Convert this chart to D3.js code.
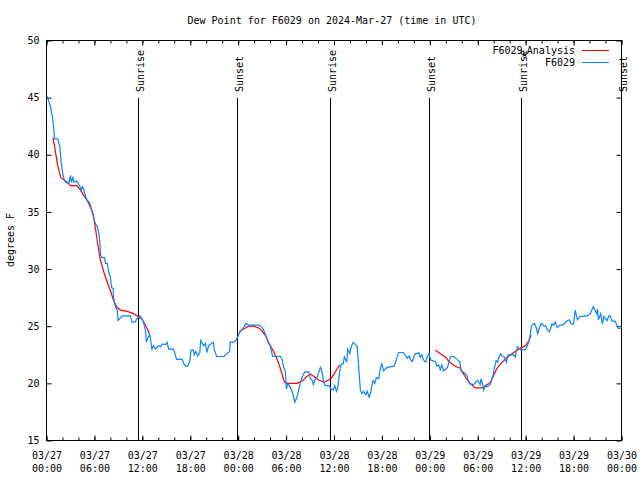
<!DOCTYPE html>
<html><head><meta charset="utf-8">
<script src="https://cdn.jsdelivr.net/npm/d3@7"></script>
<style>
body{margin:0;background:#fff}
svg text{font-family:"DejaVu Sans Mono",monospace;font-size:10px;fill:#000}
</style></head>
<body><svg id="c" width="640" height="480"></svg>
<script>
// hours since 2024-03-27 00:00 UTC
const obsHours = [0.1,0.5,0.75,0.9,1.0,1.4,1.67,1.83,2.0,2.17,2.4,2.8,3.0,3.1,3.3,3.4,3.8,4.2,4.3,4.5,4.7,4.9,5.1,5.3,5.5,5.7,5.9,6.1,6.35,6.55,6.7,6.76,6.97,7.26,7.4,7.6,7.8,8.0,8.14,8.35,8.4,8.5,8.64,8.85,8.97,9.2,9.5,10.5,10.7,11.1,11.35,11.7,12.0,12.2,12.4,12.5,12.7,12.9,13.0,13.2,13.4,13.65,13.9,14.06,14.3,14.5,14.9,15.1,15.3,15.9,16.3,17.0,17.2,17.4,17.7,17.95,18.1,18.4,18.5,18.7,18.95,19.2,19.3,19.5,19.7,19.9,20.1,20.3,20.5,20.9,21.0,21.3,22.2,22.6,22.95,23.0,23.45,23.7,23.9,24.1,24.3,24.7,25.0,25.3,25.76,26.6,27.0,27.3,27.6,27.8,28.05,28.3,29.3,29.5,29.7,29.9,30.05,30.2,30.5,30.8,31.1,31.4,31.6,31.8,32.1,32.35,32.85,33.06,33.3,33.4,33.7,33.9,34.1,34.3,34.5,34.7,34.9,35.35,35.65,35.9,36.1,36.3,36.5,36.6,36.7,36.9,37.15,37.3,37.6,37.7,37.98,38.15,38.4,38.6,38.9,39.1,39.3,39.5,39.7,40.0,40.15,40.4,40.6,40.8,40.9,41.1,41.3,41.6,41.8,42.0,42.2,42.65,43.5,43.7,43.9,44.1,44.7,44.95,45.2,45.4,45.6,45.8,46.0,46.2,46.4,46.6,46.8,47.0,47.2,47.5,47.7,47.9,48.1,48.7,48.9,49.1,49.3,49.5,49.7,49.96,50.2,50.4,50.6,51.0,51.4,51.75,51.9,52.2,52.5,52.7,52.8,53.0,53.5,53.7,54.0,54.3,54.4,54.55,54.75,54.97,55.2,55.6,55.7,55.9,56.1,56.3,56.5,56.6,56.85,57.06,57.35,57.6,57.8,58.5,58.7,58.85,59.0,59.35,59.98,60.2,60.4,60.6,60.7,60.95,61.1,61.36,61.5,61.7,61.95,62.3,62.5,62.7,62.98,63.2,63.3,63.5,63.7,63.95,64.3,64.6,64.8,65.2,65.5,65.7,66.0,66.2,66.4,66.5,66.8,67.1,67.3,67.7,68.1,68.45,68.6,68.9,69.0,69.1,69.4,69.6,69.8,70.0,70.2,70.4,70.6,70.8,71.2,71.4,71.6,71.9];
const obsDew = [45.1,44.2,43.3,42.4,41.4,41.4,40.7,39.4,38.5,37.9,37.6,37.5,38.2,37.6,38.0,37.6,37.7,37.2,36.9,37.2,36.9,36.3,36.0,35.9,35.6,35.0,34.5,34.0,33.7,33.2,32.2,31.2,31.0,31.0,30.5,30.5,29.7,29.3,28.4,28.3,27.5,27.1,26.7,26.4,25.5,25.7,25.9,25.9,25.35,25.35,25.7,25.9,25.6,25.2,24.6,23.6,24.0,24.3,24.0,23.0,23.3,23.0,23.2,23.3,23.2,23.45,23.4,23.6,23.0,23.0,22.1,22.1,21.7,21.5,21.5,22.0,22.9,22.9,22.5,22.8,22.4,22.7,23.75,23.5,23.3,23.5,22.7,23.3,23.4,23.6,23.0,22.35,22.35,22.6,22.8,23.6,23.6,23.75,24.0,24.3,24.6,24.9,25.25,25.1,25.1,25.1,24.9,24.5,23.9,23.5,23.2,22.35,22.35,22.1,21.4,21.1,19.5,20.0,19.7,19.2,18.35,18.9,19.5,20.1,20.7,21.0,21.0,20.4,20.25,19.9,20.4,20.55,21.0,21.4,21.0,20.1,19.8,19.8,19.5,19.4,19.8,19.3,19.7,20.4,21.0,21.7,21.7,22.3,21.85,23.0,22.6,23.2,23.6,23.45,23.2,21.4,19.4,19.1,19.3,19.0,19.3,18.8,19.2,20.0,20.25,20.0,20.5,20.4,21.3,21.7,21.1,21.4,21.5,21.85,22.3,22.7,22.7,22.4,22.2,22.4,22.05,21.9,22.35,22.6,22.6,22.7,22.3,22.5,22.05,21.85,22.4,22.6,22.05,21.9,21.5,21.6,21.2,21.6,21.1,21.2,21.4,21.85,22.35,22.35,22.1,21.9,21.1,21.0,20.8,20.6,20.25,19.95,19.9,20.1,20.25,19.9,20.4,20.1,19.4,19.8,19.7,19.95,20.25,20.6,21.4,22.0,21.85,22.15,22.6,22.4,22.3,21.85,22.5,22.5,22.3,22.9,23.2,22.95,22.95,23.3,23.6,24.3,25.0,25.2,25.25,24.8,24.35,24.8,25.25,25.0,25.05,24.7,24.5,25.0,25.2,25.1,25.35,24.9,25.1,25.1,25.2,25.5,25.55,25.2,25.2,26.4,25.8,25.55,25.85,25.85,25.9,25.9,26.1,26.7,26.5,26.1,26.5,25.55,26.1,25.2,25.85,25.65,25.5,25.9,25.9,25.45,25.45,25.1,24.8,24.8];
// analysis: null marks a gap
const anaHours = [0.8,1.0,1.2,1.4,1.6,1.8,2.2,2.6,3.0,3.8,4.26,4.7,5.1,5.5,5.85,6.1,6.35,6.55,6.76,7.2,7.6,8.0,8.4,8.77,9.27,10.1,10.9,11.35,11.8,12.2,12.6,12.9,
  13.0,
  24.1,24.3,24.9,25.3,25.96,26.6,27.0,27.4,27.8,28.26,28.7,29.1,29.5,29.8,30.1,31.4,32.0,32.6,33.06,33.5,34.1,34.7,35.1,35.6,36.0,36.4,36.7,
  36.8,
  48.7,49.3,49.96,50.4,50.8,51.2,51.8,52.05,52.5,52.9,53.5,53.7,54.55,54.97,55.6,56.0,56.4,56.85,57.3,57.7,58.3,58.9,59.55,59.98,60.4,60.7];
const anaDew = [41.5,40.8,39.9,39.1,38.5,38.0,37.8,37.6,37.3,37.3,36.9,36.4,36.0,35.4,34.8,33.7,32.5,31.6,30.75,29.7,28.85,28.1,27.25,26.7,26.4,26.3,26.1,25.9,25.7,25.35,24.8,24.3,
  null,
  24.4,24.6,24.85,25.0,25.0,24.85,24.6,24.2,23.6,23.0,22.4,21.7,20.8,20.1,20.0,20.0,20.2,20.6,20.8,20.6,20.3,20.1,20.2,20.4,20.8,21.3,21.6,
  null,
  22.9,22.6,22.3,21.9,21.7,21.5,21.35,21.0,20.5,20.1,19.7,19.6,19.6,19.8,20.1,20.7,21.3,21.7,22.0,22.3,22.6,22.9,23.15,23.3,23.75,24.2];
const sunHours = [11.52,23.92,35.56,47.96,59.48,72.0];
const sunLabels = ["Sunrise","Sunset","Sunrise","Sunset","Sunrise","Sunset"];
const yTicks = [15,20,25,30,35,40,45,50];
const titleText = "Dew Point for F6029 on 2024-Mar-27 (time in UTC)";
const yLabel = "degrees F";
const seriesNames = ["F6029_Analysis","F6029"];
const seriesColors = ["#ff0000","#0a84ff"];

const START = Date.UTC(2024,2,27);
const toDate = h => new Date(START + h*3600e3);
const svg = d3.select("#c");
const L=46.5, R=621.5, T=40.5, B=440.5;
const x = d3.scaleUtc().domain([toDate(0), toDate(72)]).range([L,R]);
const y = d3.scaleLinear().domain([15,50]).range([B,T]);

// title
svg.append("text").attr("x",332).attr("y",24).attr("text-anchor","middle").text(titleText);
// y label
svg.append("text").attr("transform","translate(14,240) rotate(-90)").attr("text-anchor","middle").text(yLabel);

function clean(g){ g.select(".domain").remove(); g.selectAll(".tick line").attr("stroke","#000"); }
// bottom axis
svg.append("g").attr("transform",`translate(0,${B})`)
  .call(d3.axisBottom(x).ticks(d3.utcHour.every(2)).tickSize(-3).tickFormat("")).call(clean);
const gBM = svg.append("g").attr("transform",`translate(0,${B})`)
  .call(d3.axisBottom(x).ticks(d3.utcHour.every(6)).tickSize(-5).tickFormat("")).call(clean);
const fmtD = d3.utcFormat("%m/%d"), fmtT = d3.utcFormat("%H:%M");
gBM.selectAll(".tick").each(function(d){
  const t = d3.select(this).append("text").attr("text-anchor","middle").attr("fill","#000");
  t.append("tspan").attr("x",0).attr("y",18).text(fmtD(d));
  t.append("tspan").attr("x",0).attr("y",31).text(fmtT(d));
});
// top axis (mirror)
svg.append("g").attr("transform",`translate(0,${T})`)
  .call(d3.axisTop(x).ticks(d3.utcHour.every(2)).tickSize(-3).tickFormat("")).call(clean);
svg.append("g").attr("transform",`translate(0,${T})`)
  .call(d3.axisTop(x).ticks(d3.utcHour.every(6)).tickSize(-5).tickFormat("")).call(clean);
// left axis
const gL = svg.append("g").attr("transform",`translate(${L},0)`)
  .call(d3.axisLeft(y).tickValues(yTicks).tickSize(-5).tickPadding(7)).call(clean);
gL.selectAll("text").attr("font-family",null).attr("font-size",null).attr("fill","#000");
// right axis (mirror)
svg.append("g").attr("transform",`translate(${R},0)`)
  .call(d3.axisRight(y).tickValues(yTicks).tickSize(-5).tickFormat("")).call(clean);

// sunrise/sunset
const sun = svg.append("g");
sunHours.forEach((h,i)=>{
  const sx = Math.floor(x(toDate(h)))+0.5;
  sun.append("line").attr("x1",sx).attr("x2",sx).attr("y1",98).attr("y2",B).attr("stroke","#000");
  sun.append("text").attr("transform",`translate(${sx+5},92) rotate(-90)`).text(sunLabels[i]);
});

// frame
svg.append("rect").attr("x",L).attr("y",T).attr("width",R-L).attr("height",B-T)
  .attr("fill","none").attr("stroke","#000");

// series
const anaData = anaHours.map((h,i)=>({t:toDate(h), v:anaDew[i]}));
const obsData = obsHours.map((h,i)=>({t:toDate(h), v:obsDew[i]}));
const line = d3.line().defined(d=>d.v!==null).x(d=>x(d.t)).y(d=>y(d.v));
svg.append("path").datum(anaData).attr("d",line).attr("fill","none").attr("stroke",seriesColors[0]).attr("stroke-width",1.2);
svg.append("path").datum(obsData).attr("d",line).attr("fill","none").attr("stroke",seriesColors[1]).attr("stroke-width",1.2);

// legend
const lg = svg.append("g");
const t1 = lg.append("text").attr("x",575).attr("y",54).attr("text-anchor","end");
const parts = seriesNames[0].split("_");
t1.append("tspan").text(parts[0]);
t1.append("tspan").attr("dy",3).attr("font-size","7px").text(parts[1][0]);
t1.append("tspan").attr("dy",-3).text(parts[1]);
lg.append("line").attr("x1",582).attr("x2",609).attr("y1",50.5).attr("y2",50.5).attr("stroke",seriesColors[0]);
lg.append("text").attr("x",575).attr("y",66).attr("text-anchor","end").text(seriesNames[1]);
lg.append("line").attr("x1",582).attr("x2",609).attr("y1",62.5).attr("y2",62.5).attr("stroke",seriesColors[1]);
</script></body></html>
